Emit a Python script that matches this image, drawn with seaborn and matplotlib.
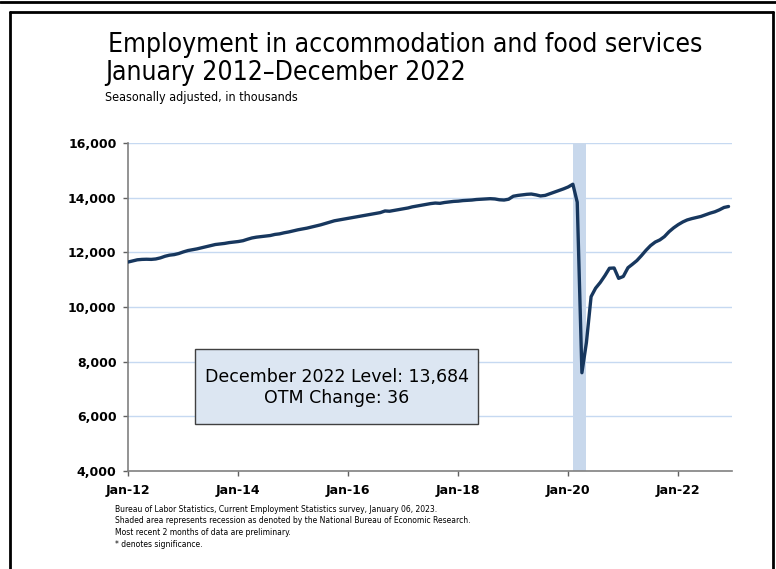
import matplotlib
matplotlib.use("Agg")
import matplotlib.pyplot as plt
from matplotlib.patches import Rectangle
from matplotlib.lines import Line2D
import seaborn as sns
import pandas as pd

# ---- data (thousands, seasonally adjusted), Jan 2012 .. Dec 2022 ----
v2012 = [11650, 11690, 11730, 11745, 11750, 11745, 11760, 11800, 11860, 11900, 11920, 11960]
v2013 = [12020, 12070, 12100, 12130, 12170, 12210, 12250, 12290, 12310, 12330, 12360, 12380]
v2014 = [12400, 12430, 12480, 12530, 12560, 12580, 12600, 12620, 12660, 12680, 12720, 12750]
v2015 = [12790, 12830, 12860, 12890, 12930, 12970, 13010, 13060, 13110, 13160, 13190, 13220]
v2016 = [13250, 13280, 13310, 13340, 13370, 13400, 13430, 13460, 13520, 13510, 13540, 13570]
v2017 = [13600, 13630, 13670, 13700, 13730, 13760, 13790, 13810, 13800, 13830, 13850, 13870]
v2018 = [13880, 13900, 13910, 13920, 13940, 13950, 13960, 13970, 13960, 13930, 13920, 13950]
v2019 = [14060, 14090, 14110, 14130, 14140, 14110, 14070, 14090, 14150, 14210, 14270, 14330]
v2020 = [14400, 14500, 13840, 7590, 8700, 10380, 10690, 10900, 11150, 11420, 11430, 11050]
v2021 = [11120, 11440, 11560, 11700, 11880, 12080, 12250, 12380, 12460, 12580, 12760, 12900]
v2022 = [13020, 13120, 13190, 13240, 13280, 13320, 13380, 13440, 13490, 13560, 13648, 13684]

start_month = "2012-01-01"
recession_start = "2020-02-01"
recession_end = "2020-05-01"
tick_years = [2012, 2014, 2016, 2018, 2020, 2022]
tick_labels = ["Jan-12", "Jan-14", "Jan-16", "Jan-18", "Jan-20", "Jan-22"]
y_ticks = [4000, 6000, 8000, 10000, 12000, 14000, 16000]

title1 = "Employment in accommodation and food services"
title2 = "January 2012\u2013December 2022"
subtitle = "Seasonally adjusted, in thousands"
box_lines = ["December 2022 Level: 13,684", "OTM Change: 36"]
notes = [
    "Bureau of Labor Statistics, Current Employment Statistics survey, January 06, 2023.",
    "Shaded area represents recession as denoted by the National Bureau of Economic Research.",
    "Most recent 2 months of data are preliminary.",
    "* denotes significance.",
]

values = v2012 + v2013 + v2014 + v2015 + v2016 + v2017 + v2018 + v2019 + v2020 + v2021 + v2022
dates = pd.date_range(start_month, periods=len(values), freq="MS")
df = pd.DataFrame({"date": dates, "value": values})

sns.set_theme(style="white")
plt.rcParams["font.family"] = ["DejaVu Sans"]
plt.rcParams["text.color"] = "black"

W, H = 776, 569
fig = plt.figure(figsize=(W / 100, H / 100), dpi=100)
fig.patch.set_facecolor("white")

L, R, T, B = 128.3, 732.3, 143.3, 470.7
ax = fig.add_axes([L / W, 1 - B / H, (R - L) / W, (B - T) / H])

grid_c = "#c6d9f1"
for yv in y_ticks[1:]:
    ax.axhline(yv, color=grid_c, lw=1.0, zorder=0)

ax.axvspan(pd.Timestamp(recession_start), pd.Timestamp(recession_end),
           color="#c8d8ec", lw=0, zorder=1)

sns.lineplot(data=df, x="date", y="value", ax=ax, color="#17375e", lw=2.4,
             zorder=3, legend=False)

ax.set_xlim(pd.Timestamp(start_month), pd.Timestamp("2022-12-26"))
ax.set_ylim(y_ticks[0], y_ticks[-1])
ax.set_yticks(y_ticks)
ax.set_yticklabels([f"{v:,}" for v in y_ticks], fontsize=9, fontweight="bold")
ax.set_xticks([pd.Timestamp(f"{y}-01-01") for y in tick_years])
ax.set_xticklabels(tick_labels, fontsize=9, fontweight="bold")
ax.set_xlabel("")
ax.set_ylabel("")
for s in ["top", "right"]:
    ax.spines[s].set_visible(False)
for s in ["left", "bottom"]:
    ax.spines[s].set_color("#808080")
    ax.spines[s].set_linewidth(1.2)
ax.tick_params(axis="both", direction="out", length=3.5, width=1, color="#606060",
               labelcolor="black")
ax.tick_params(axis="y", pad=5)
ax.tick_params(axis="x", pad=6)
ax.yaxis.set_ticks_position("left")
ax.xaxis.set_ticks_position("bottom")

# Annotation box
bx0, bx1 = (195 - L) / (R - L), (478.3 - L) / (R - L)
by0, by1 = (B - 424.3) / (B - T), (B - 349) / (B - T)
ax.add_patch(Rectangle((bx0, by0), bx1 - bx0, by1 - by0, transform=ax.transAxes,
                       facecolor="#dce6f2", edgecolor="#404040", lw=1.0, zorder=5))
cx = (bx0 + bx1) / 2
ax.text(cx, (B - 377) / (B - T), box_lines[0], transform=ax.transAxes, ha="center",
        va="center", fontsize=12.5, zorder=6, color="black")
ax.text(cx, (B - 398) / (B - T), box_lines[1], transform=ax.transAxes, ha="center",
        va="center", fontsize=12.5, zorder=6, color="black")

# Titles
fig.text(108 / W, 1 - 45 / H, title1, fontsize=19, va="center", ha="left",
         fontstretch="condensed", color="black")
fig.text(105 / W, 1 - 73 / H, title2, fontsize=19, va="center", ha="left",
         fontstretch="condensed", color="black")
fig.text(105 / W, 1 - 98 / H, subtitle, fontsize=9, va="center", ha="left",
         fontstretch="condensed", color="black")

# Footnotes
for i, n in enumerate(notes):
    fig.text(115 / W, 1 - (509 + i * 11.7) / H, n, fontsize=6.1, va="center",
             ha="left", fontstretch="condensed", color="black")

# Outer frame lines
def fline(x0, y0, x1, y1, lw=2.0):
    fig.add_artist(Line2D([x0 / W, x1 / W], [1 - y0 / H, 1 - y1 / H],
                          color="black", lw=lw, transform=fig.transFigure))

fline(0, 2, W, 2)
fline(10, 12, 773, 12)
fline(10, 12, 10, H)
fline(773, 12, 773, H)

fig.savefig("out.png", dpi=100)
